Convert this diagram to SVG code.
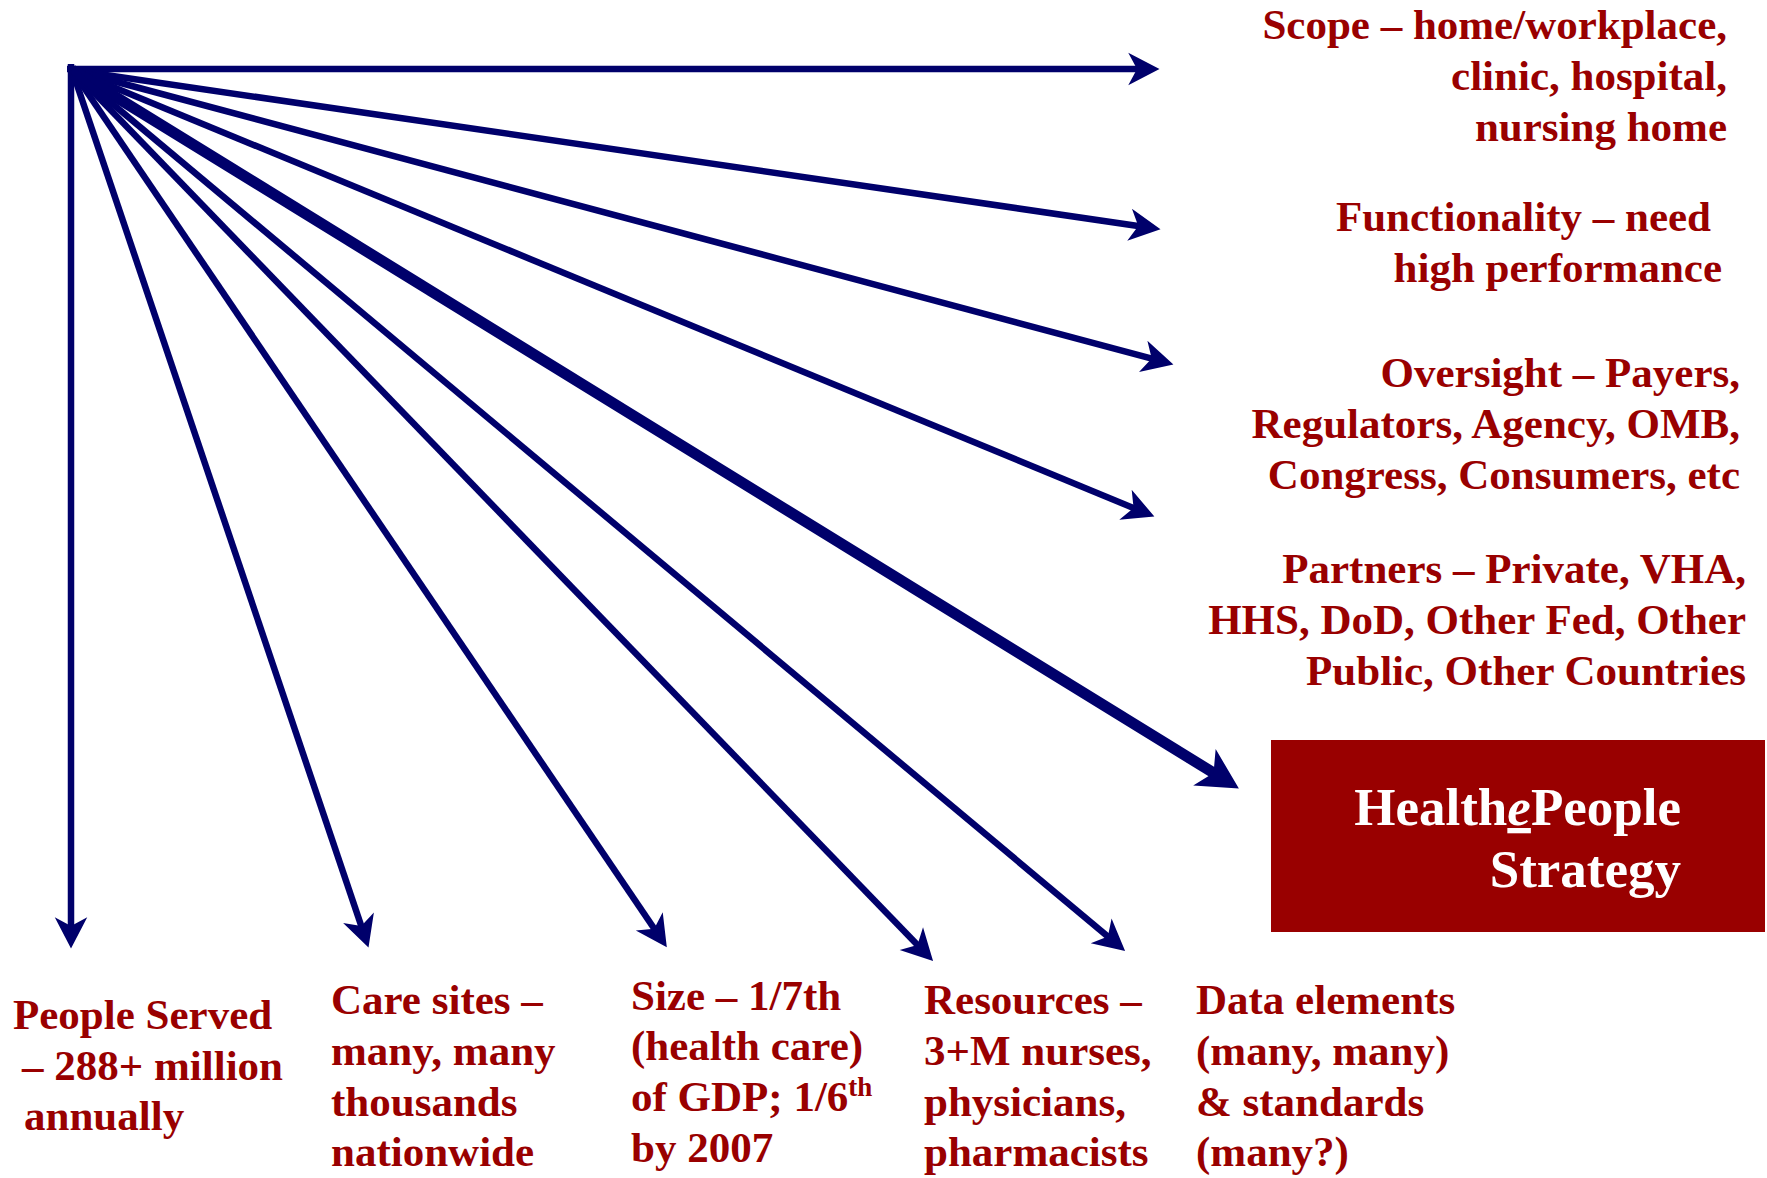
<svg xmlns="http://www.w3.org/2000/svg" width="1767" height="1178" viewBox="0 0 1767 1178">
<style>
.t{font-family:"Liberation Serif","Times New Roman",serif;font-weight:bold;font-size:43px;fill:#990000}
.r{text-anchor:end}
.c{stroke:#00006b;stroke-width:6.5;fill:none;marker-end:url(#ah)}
.ct{stroke:#00006b;stroke-width:11;fill:none;marker-end:url(#ahb)}
.bt{font-family:"Liberation Serif","Times New Roman",serif;font-weight:bold;font-size:53px;fill:#ffffff;text-anchor:end}
</style>
<defs>
<marker id="ah" markerUnits="userSpaceOnUse" orient="auto" refX="0" refY="0" markerWidth="40" markerHeight="40" viewBox="-12 -15 32 30" overflow="visible">
<path d="M14,0 L-11,-13 L-4,0 L-11,13 Z" fill="#00006b"/>
</marker>
<marker id="ahb" markerUnits="userSpaceOnUse" orient="auto" refX="0" refY="0" markerWidth="50" markerHeight="50" viewBox="-14 -20 42 40" overflow="visible">
<path d="M21,0 L-13,-18 L-4,0 L-13,18 Z" fill="#00006b"/>
</marker>
</defs>
<rect width="1767" height="1178" fill="#ffffff"/>
<g id="connectors">
<line class="c" x1="67" y1="69" x2="1142" y2="69"/>
<line class="c" x1="72" y1="70" x2="1143.2" y2="226.7"/>
<line class="c" x1="72" y1="70" x2="1156.5" y2="359.9"/>
<line class="c" x1="72" y1="70" x2="1138.2" y2="509.9"/>
<line class="ct" x1="72" y1="70" x2="1217.6" y2="775.4"/>
<line class="c" x1="71" y1="64" x2="71" y2="931"/>
<line class="c" x1="72" y1="70" x2="362.9" y2="930.8"/>
<line class="c" x1="72" y1="70" x2="657" y2="932.8"/>
<line class="c" x1="72" y1="70" x2="920.9" y2="948.5"/>
<line class="c" x1="72" y1="70" x2="1111.7" y2="939.7"/>
</g>
<g id="scope">
<text class="t r" x="1727" y="39">Scope – home/workplace,</text>
<text class="t r" x="1727" y="90">clinic, hospital,</text>
<text class="t r" x="1727" y="141">nursing home</text>
</g>
<g id="functionality">
<text class="t r" x="1711" y="231">Functionality – need</text>
<text class="t r" x="1722" y="282">high performance</text>
</g>
<g id="oversight">
<text class="t r" x="1740" y="387">Oversight – Payers,</text>
<text class="t r" x="1740" y="438">Regulators, Agency, OMB,</text>
<text class="t r" x="1740" y="489">Congress, Consumers, etc</text>
</g>
<g id="partners">
<text class="t r" x="1746" y="583">Partners – Private, VHA,</text>
<text class="t r" x="1746" y="634">HHS, DoD, Other Fed, Other</text>
<text class="t r" x="1746" y="685">Public, Other Countries</text>
</g>
<g id="strategy">
<rect x="1271" y="740" width="494" height="192" fill="#990000"/>
<text class="bt" x="1681" y="825">Health<tspan font-style="italic" text-decoration="underline">e</tspan>People</text>
<text class="bt" x="1681" y="887">Strategy</text>
</g>
<g id="people">
<text class="t" x="13" y="1029">People Served</text>
<text class="t" x="22" y="1080">– 288+ million</text>
<text class="t" x="24" y="1130">annually</text>
</g>
<g id="caresites">
<text class="t" x="331" y="1014">Care sites –</text>
<text class="t" x="331" y="1065">many, many</text>
<text class="t" x="331" y="1116">thousands</text>
<text class="t" x="331" y="1166">nationwide</text>
</g>
<g id="size">
<text class="t" x="631" y="1010">Size – 1/7th</text>
<text class="t" x="631" y="1060">(health care)</text>
<text class="t" x="631" y="1111">of GDP; 1/6<tspan font-size="27" dy="-15">th</tspan></text>
<text class="t" x="631" y="1162">by 2007</text>
</g>
<g id="resources">
<text class="t" x="924" y="1014">Resources –</text>
<text class="t" x="924" y="1065">3+M nurses,</text>
<text class="t" x="924" y="1116">physicians,</text>
<text class="t" x="924" y="1166">pharmacists</text>
</g>
<g id="data">
<text class="t" x="1196" y="1014">Data elements</text>
<text class="t" x="1196" y="1065">(many, many)</text>
<text class="t" x="1196" y="1116">&amp; standards</text>
<text class="t" x="1196" y="1166">(many?)</text>
</g>
</svg>
